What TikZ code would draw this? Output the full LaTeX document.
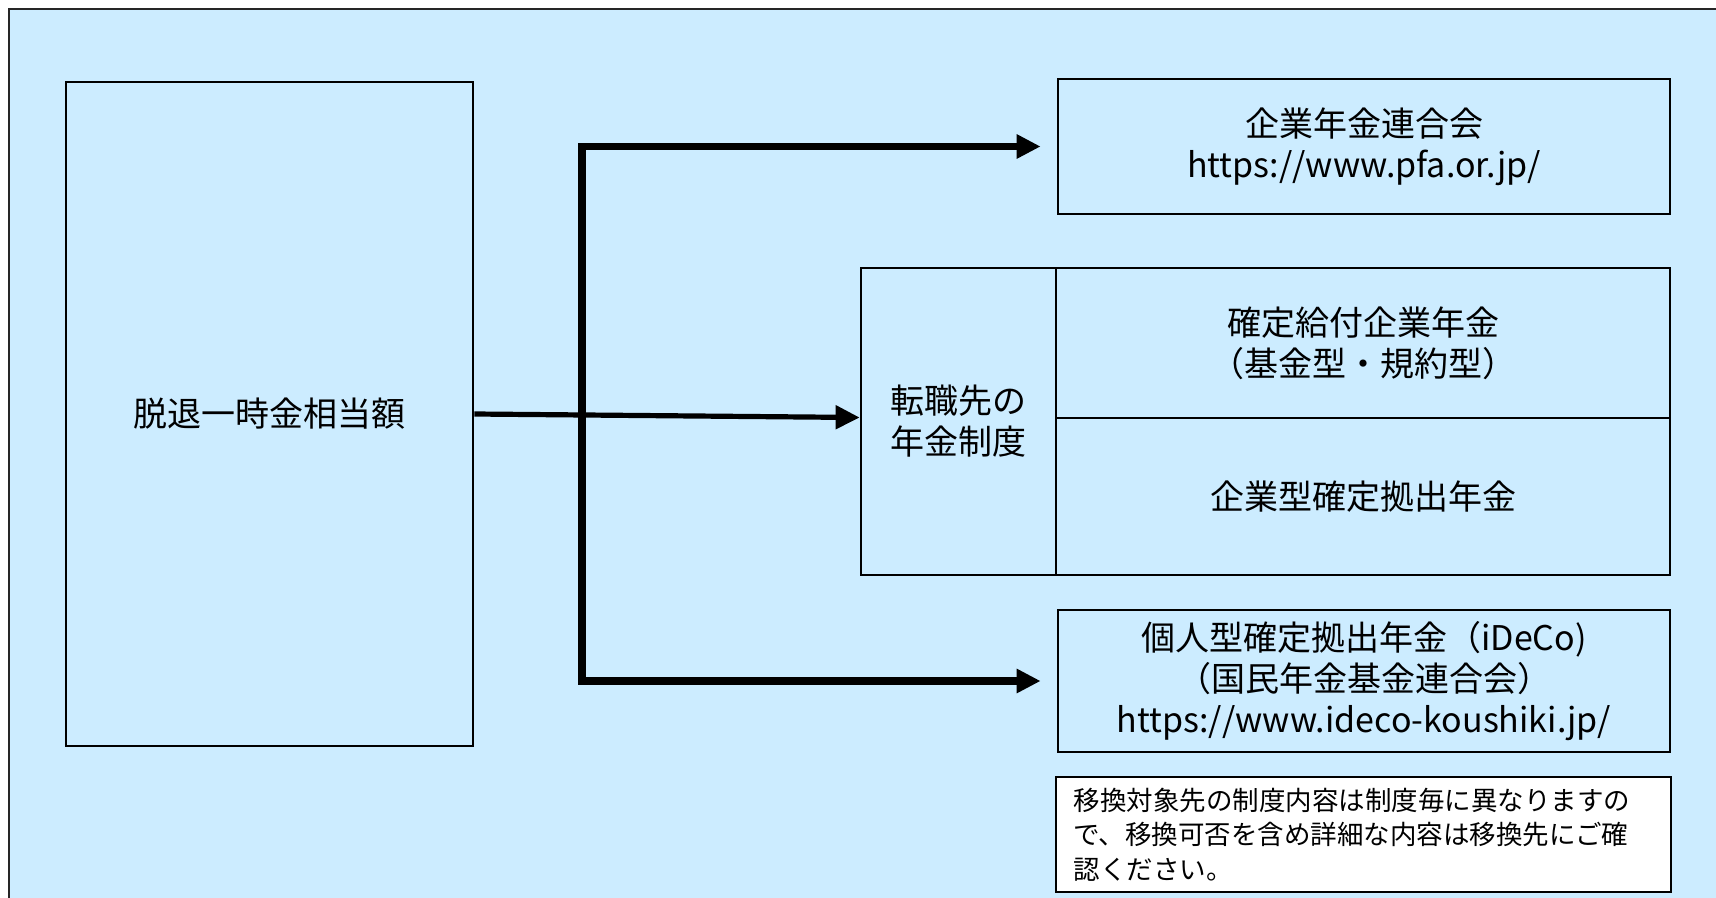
\documentclass[tikz,border=0pt]{standalone}
\usepackage{fontspec}
\setmainfont{Noto Sans CJK JP}
\usetikzlibrary{arrows.meta, calc}
\definecolor{bgblue}{HTML}{CCECFF}
\tikzset{
  box/.style={draw=black, line width=1.4pt, fill=bgblue, inner sep=0pt, align=center,
    font=\fontsize{17}{20.5}\selectfont},
  notebox/.style={box, fill=white, align=left, text width=290pt, inner xsep=8.75pt,
    font=\fontsize{13.25}{17.25}\selectfont},
}
\begin{document}
\begin{tikzpicture}[x=0.5pt, y=-0.5pt, >={Triangle[length=12pt,width=11.5pt]}]
      \useasboundingbox (0,0) rectangle (1716,898);
      \clip (0,0) rectangle (1716,898);
      % frame
      \draw[line width=1pt, draw=black!85, fill=bgblue] (9,9) rectangle (1760,940);
      % boxes
      \node[box, minimum width=203.5pt, minimum height=332pt] (base) at (269.5,414) {脱退一時金相当額};
      \node[box, minimum width=306pt, minimum height=67.5pt] (pfa) at (1364,146.5) {企業年金連合会\\https://www.pfa.or.jp/};
      \node[box, minimum width=97.5pt, minimum height=153.5pt] (career) at (958.5,421.5) {転職先の\\年金制度};
      \node[box, minimum width=307pt, minimum height=75pt] (db) at (1363,343) {確定給付企業年金\\（基金型・規約型）};
      \node[box, minimum width=307pt, minimum height=78.5pt] (dc) at (1363,496.5) {企業型確定拠出年金};
      \node[box, minimum width=306pt, minimum height=71pt] (ideco) at (1364,681) {個人型確定拠出年金（iDeCo)\\（国民年金基金連合会）\\https://www.ideco-koushiki.jp/};
      \node[notebox, minimum width=307.5pt, minimum height=57.5pt] (note) at (1363.5,834.5) {移換対象先の制度内容は制度毎に異なりますの\\で、移換可否を含め詳細な内容は移換先にご確\\認ください。};
      \coordinate (fx) at (582,414);
      % main arrow
      \draw[line width=2.6pt, ->] (base.east) -- ([yshift=2pt]career.west);
      % fork to pfa and ideco
      \draw[line width=3.6pt, line join=miter, <->]
        ([xshift=-8pt]pfa.west) -- (pfa.west -| fx) -- (ideco.west -| fx) -- ([xshift=-8pt]ideco.west);
\end{tikzpicture}
\end{document}
